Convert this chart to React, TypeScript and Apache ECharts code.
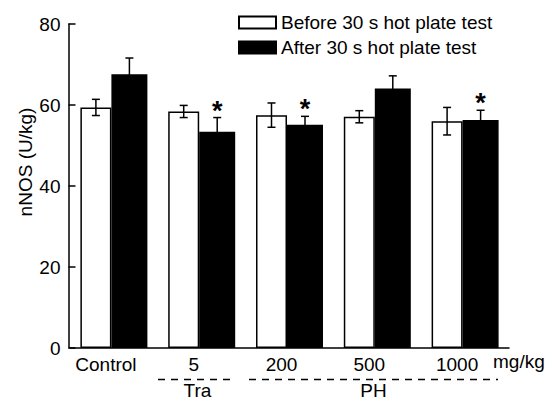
import React, { useEffect, useRef } from "react";
import * as echarts from "echarts";

// ---- data ----
const categories = ["Control", "5", "200", "500", "1000"];
const beforeMean = [59.4, 58.4, 57.5, 57.1, 56.0];
const beforeErr = [2.0, 1.5, 3.0, 1.5, 3.4];
const afterMean = [67.6, 53.4, 55.1, 64.1, 56.3];
const afterErr = [4.0, 3.5, 2.1, 3.1, 2.4];
const significant = [false, true, true, false, true];
const yMin = 0;
const yMax = 80;
const yStep = 20;
const seriesNames = ["Before 30 s hot plate test", "After 30 s hot plate test"];
const unitLabel = "mg/kg";
const groupLabels = ["Tra", "PH"];
const yName = "nNOS (U/kg)";

const FONT = "Liberation Sans, Arial, Helvetica, sans-serif";
const FS = 19;
const W_BEFORE = 31;
const W_AFTER = 36;
const OFF_BEFORE = -(W_BEFORE + W_AFTER) / 2 + W_BEFORE / 2;
const OFF_AFTER = -(W_BEFORE + W_AFTER) / 2 + W_BEFORE + W_AFTER / 2;

function errorSeries(mean: number[], err: number[], offset: number, stars: boolean) {
  return {
    type: "custom",
    z: 5,
    silent: true,
    data: mean.map((m, i) => [i, m, err[i], stars && significant[i] ? 1 : 0]),
    encode: { x: 0, y: 1 },
    renderItem: (_p: any, api: any) => {
      const idx = api.value(0);
      const m = api.value(1);
      const e = api.value(2);
      const sig = api.value(3);
      const top = api.coord([idx, m + e]);
      const bot = api.coord([idx, m - e]);
      const x = top[0] + offset;
      const half = 4;
      const st = { stroke: "#000", lineWidth: 1.5 };
      const children: any[] = [
        { type: "line", shape: { x1: x, y1: top[1], x2: x, y2: bot[1] }, style: st },
        { type: "line", shape: { x1: x - half, y1: top[1], x2: x + half, y2: top[1] }, style: st },
        { type: "line", shape: { x1: x - half, y1: bot[1], x2: x + half, y2: bot[1] }, style: st },
      ];
      if (sig) {
        children.push({
          type: "text",
          x: x,
          y: top[1] - 7,
          style: {
            text: "*",
            fontSize: 27,
            fontWeight: "bold",
            fontFamily: FONT,
            fill: "#000",
            align: "center",
            verticalAlign: "middle",
          },
        });
      }
      return { type: "group", children };
    },
  };
}

export default function App() {
  const ref = useRef<HTMLDivElement>(null);
  useEffect(() => {
    if (!ref.current) return;
    const chart = echarts.init(ref.current, undefined, { renderer: "svg" });
    const option: any = {
      animation: false,
      backgroundColor: "#fff",
      textStyle: { fontFamily: FONT },
      grid: { left: 70, top: 24, width: 439, height: 324 },
      legend: {
        orient: "vertical",
        left: 238,
        top: 13,
        padding: 0,
        itemWidth: 37,
        itemHeight: 12,
        itemGap: 6,
        selectedMode: false,
        icon: "rect",
        data: seriesNames,
        textStyle: { fontSize: FS, color: "#000", fontFamily: FONT },
      },
      xAxis: {
        type: "category",
        data: categories,
        axisTick: { show: false },
        axisLine: { lineStyle: { color: "#000", width: 1.5 } },
        axisLabel: { color: "#000", fontSize: FS, fontFamily: FONT, margin: 7, padding: [0, 16, 0, 0] },
      },
      yAxis: {
        type: "value",
        min: yMin,
        max: yMax,
        interval: yStep,
        offset: 1.5,
        splitLine: { show: false },
        axisLine: { show: true, lineStyle: { color: "#000", width: 1.5 } },
        axisTick: { show: true, inside: true, length: 7, lineStyle: { color: "#000", width: 1.5 } },
        axisLabel: { color: "#000", fontSize: FS, fontFamily: FONT, margin: 8 },
      },
      series: [
        {
          name: seriesNames[0],
          type: "bar",
          data: beforeMean,
          barWidth: W_BEFORE,
          barGap: 0,
          itemStyle: { color: "#fff", borderColor: "#000", borderWidth: 1.5 },
        },
        {
          name: seriesNames[1],
          type: "bar",
          data: afterMean,
          barWidth: W_AFTER,
          barGap: 0,
          itemStyle: { color: "#000", borderColor: "#000", borderWidth: 1.5 },
        },
        errorSeries(beforeMean, beforeErr, OFF_BEFORE, false),
        errorSeries(afterMean, afterErr, OFF_AFTER, true),
      ],
      graphic: [
        {
          type: "text",
          x: 25,
          y: 162,
          rotation: Math.PI / 2,
          style: { text: yName, fontSize: FS, fontFamily: FONT, fill: "#000", align: "center", verticalAlign: "middle" },
        },
        {
          type: "text",
          x: 493,
          y: 352,
          style: { text: unitLabel, fontSize: FS, fontFamily: FONT, fill: "#000", align: "left", verticalAlign: "top" },
        },
        {
          type: "line",
          shape: { x1: 158, y1: 379.5, x2: 232, y2: 379.5 },
          style: { stroke: "#000", lineWidth: 1.5, lineDash: [7, 6] },
        },
        {
          type: "line",
          shape: { x1: 249, y1: 379.5, x2: 498, y2: 379.5 },
          style: { stroke: "#000", lineWidth: 1.5, lineDash: [7, 6] },
        },
        {
          type: "text",
          x: 197.5,
          y: 381,
          style: { text: groupLabels[0], fontSize: FS, fontFamily: FONT, fill: "#000", align: "center", verticalAlign: "top" },
        },
        {
          type: "text",
          x: 373.5,
          y: 381,
          style: { text: groupLabels[1], fontSize: FS, fontFamily: FONT, fill: "#000", align: "center", verticalAlign: "top" },
        },
      ],
    };
    chart.setOption(option);
    return () => chart.dispose();
  }, []);
  return (
    <div
      ref={ref}
      style={{ position: "fixed", left: 0, top: 0, width: 548, height: 400, background: "#fff" }}
    />
  );
}
